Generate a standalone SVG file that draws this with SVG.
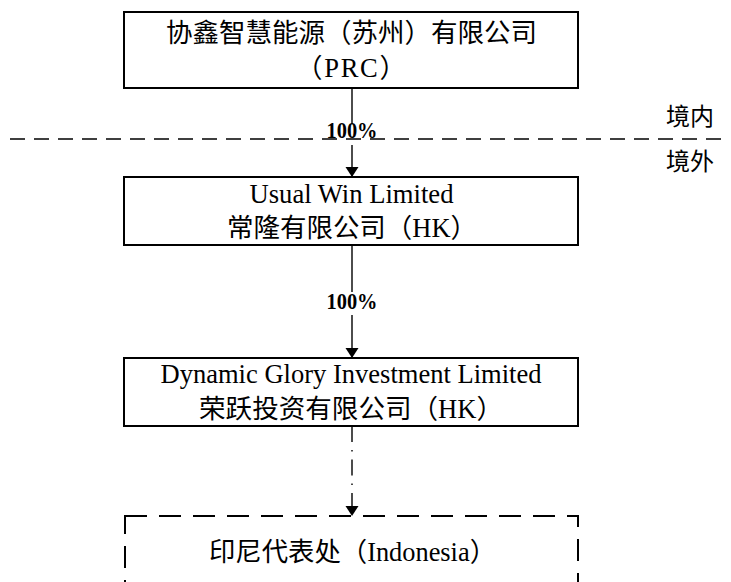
<svg xmlns="http://www.w3.org/2000/svg" width="731" height="582" viewBox="0 0 731 582">
<style>
.box{fill:#fff;stroke:#000;stroke-width:2}
.dbox{fill:none;stroke:#000;stroke-width:2;stroke-dasharray:22 12}
.t{font-family:"Liberation Serif","Noto Sans CJK SC",serif;font-size:26.5px;fill:#000}
.side{font-family:"Liberation Serif","Noto Sans CJK SC",serif;font-size:24px;fill:#000}
.pct{font-family:"Liberation Serif",serif;font-size:23px;font-weight:bold;fill:#000}
.conn{stroke:#000;stroke-width:1.4;fill:none}
.dashdot{stroke-dasharray:16 8 1.5 8}
.bg{fill:#fff}
.border{stroke:#000;stroke-width:1.6;stroke-dasharray:15 9;fill:none}
</style>
<defs>
<marker id="arr" markerUnits="userSpaceOnUse" markerWidth="10" markerHeight="14" refX="10" refY="6.5" orient="auto">
<path d="M0,0 L10,6.5 L0,13 z" fill="#000"/>
</marker>
</defs>
<rect width="731" height="582" fill="#fff"/>
<g id="connectors">
<line class="conn" x1="352" y1="88" x2="352" y2="177" marker-end="url(#arr)"/>
<line class="conn" x1="352" y1="245" x2="352" y2="358" marker-end="url(#arr)"/>
<line class="conn dashdot" x1="352" y1="426" x2="352" y2="516" marker-end="url(#arr)"/>
<rect class="bg" x="326" y="124" width="52" height="21"/>
<text class="pct" x="326.5" y="138" textLength="51" lengthAdjust="spacingAndGlyphs">100%</text>
<rect class="bg" x="326" y="292" width="52" height="23"/>
<text class="pct" x="326.5" y="309" textLength="51" lengthAdjust="spacingAndGlyphs">100%</text>
</g>
<g id="border">
<line class="border" x1="10" y1="139" x2="727" y2="139"/>
<text class="side" x="666" y="125">境内</text>
<text class="side" x="666" y="170">境外</text>
</g>
<g id="node-prc">
<rect class="box" x="124" y="12" width="454" height="76"/>
<text class="t" x="166" y="42" textLength="371" lengthAdjust="spacingAndGlyphs">协鑫智慧能源（苏州）有限公司</text>
<text class="t" x="296" y="77" textLength="110" lengthAdjust="spacing">（PRC）</text>
</g>
<g id="node-usualwin">
<rect class="box" x="124" y="177" width="454" height="68"/>
<text class="t" x="249.5" y="203" textLength="204" lengthAdjust="spacingAndGlyphs">Usual Win Limited</text>
<text class="t" x="227" y="237" textLength="250" lengthAdjust="spacingAndGlyphs">常隆有限公司（HK）</text>
</g>
<g id="node-dynamic">
<rect class="box" x="124" y="358" width="454" height="68"/>
<text class="t" x="160.5" y="383" textLength="381" lengthAdjust="spacingAndGlyphs">Dynamic Glory Investment Limited</text>
<text class="t" x="199" y="418" textLength="304" lengthAdjust="spacingAndGlyphs">荣跃投资有限公司（HK）</text>
</g>
<g id="node-indonesia">
<rect class="dbox" x="125" y="516" width="453" height="100"/>
<text class="t" x="209" y="561" textLength="287" lengthAdjust="spacingAndGlyphs">印尼代表处（Indonesia）</text>
</g>
</svg>
